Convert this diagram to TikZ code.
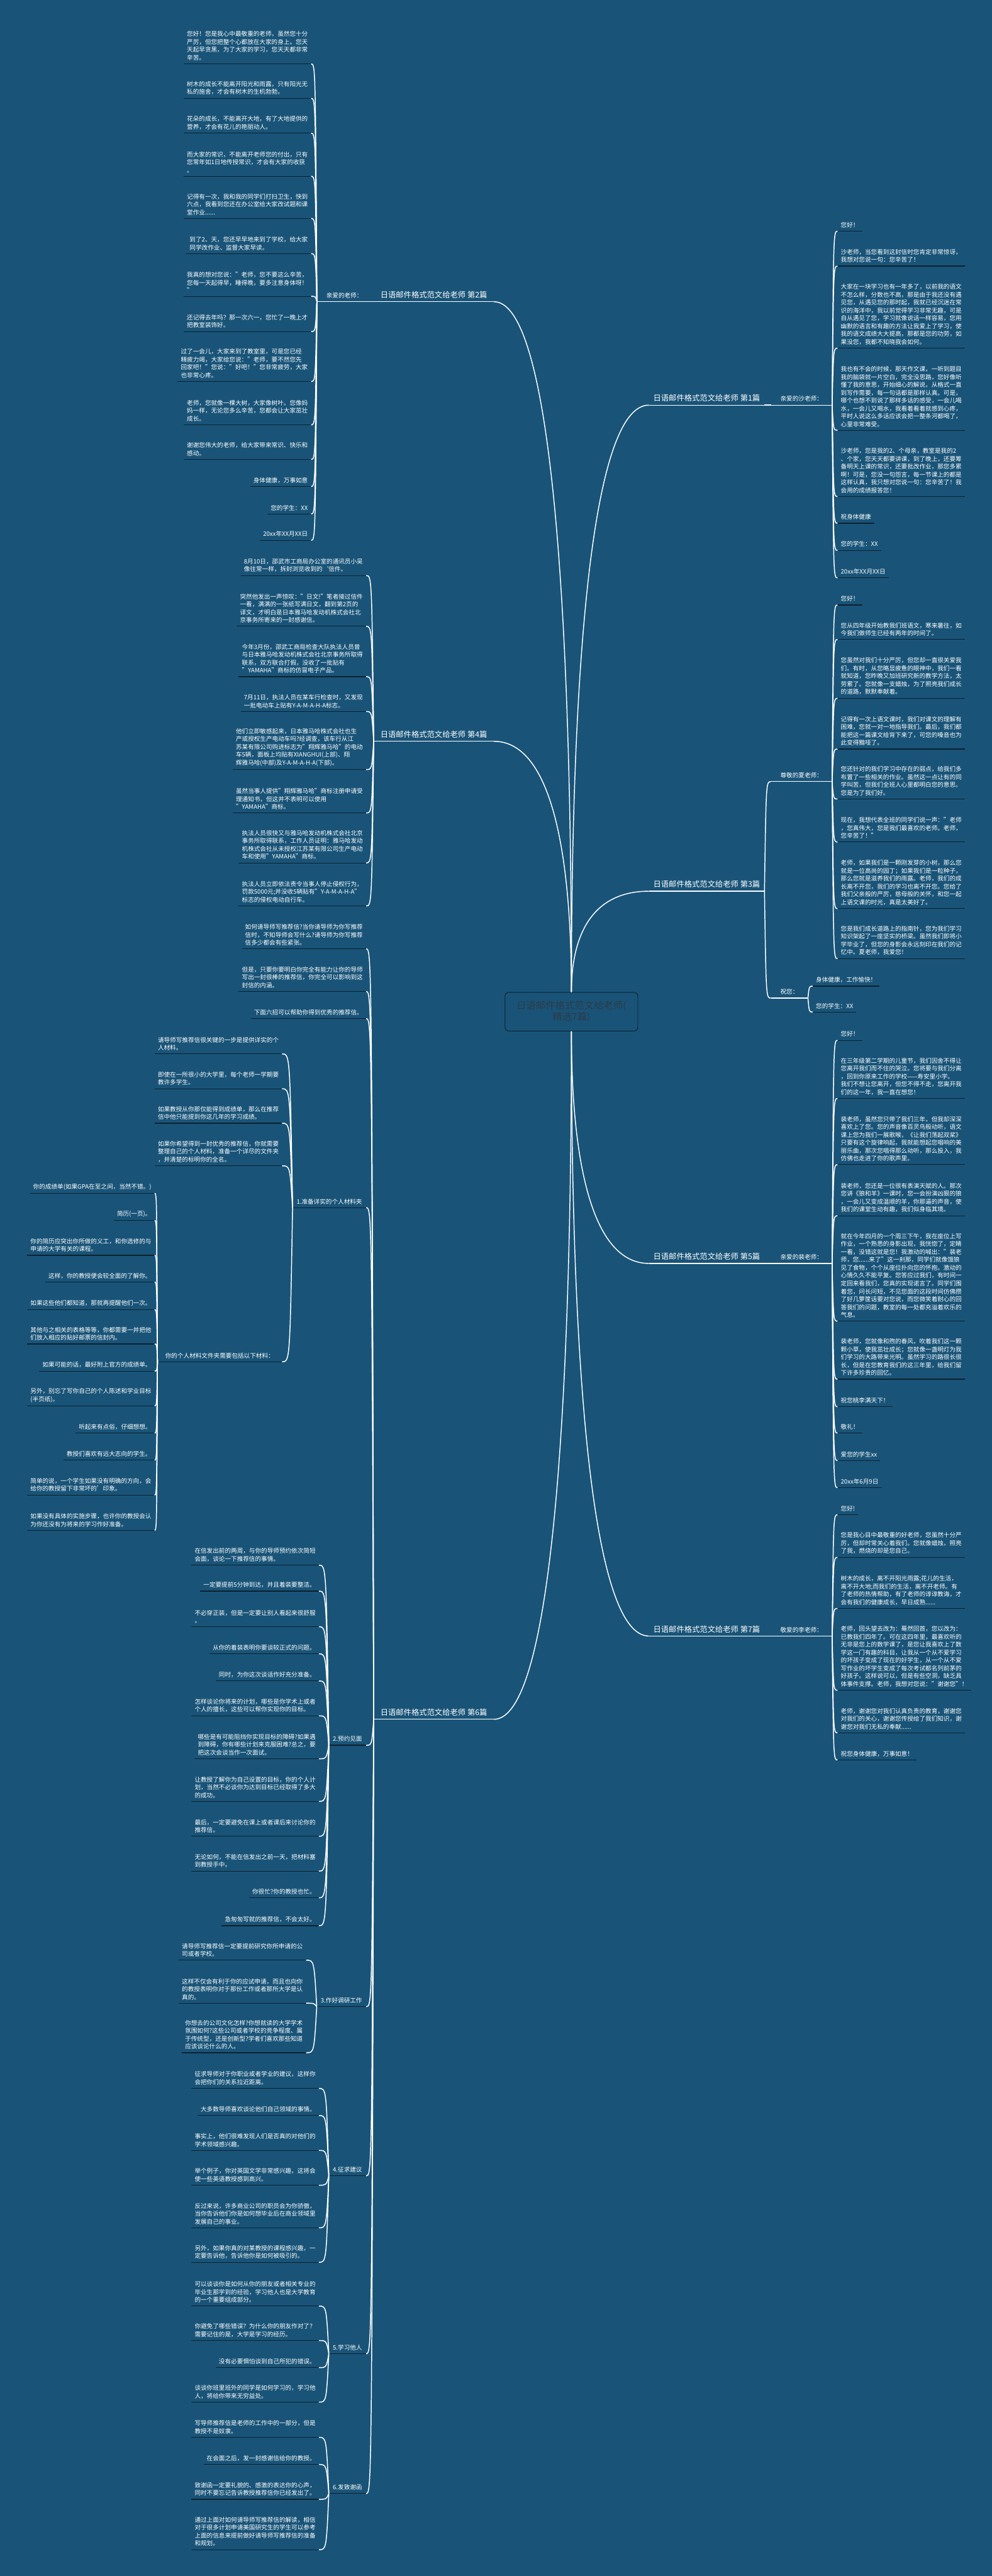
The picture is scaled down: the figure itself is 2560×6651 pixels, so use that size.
\documentclass[tikz,border=0pt]{standalone}
\usepackage{fontspec}
\setmainfont{Noto Sans CJK SC}
\usetikzlibrary{calc}
\definecolor{bg}{RGB}{25,84,120}
\definecolor{ulc}{RGB}{14,32,46}
\definecolor{ctext}{RGB}{45,58,72}
\newcommand\lf{\fontsize{7.8}{10.15}\selectfont}
\newcommand\brfont{\fontsize{10}{12}\selectfont}
\tikzset{
  ul/.style={draw=ulc, line width=1pt},
  wul/.style={draw=white, line width=1pt},
  conn/.style={draw=white, line width=1.2pt},
  leaf/.style={font=\lf, text=white, align=left, inner xsep=4pt, inner ysep=4.2pt,
     append after command={(\tikzlastnode.south west) edge[ul] (\tikzlastnode.south east)}},
  L/.style={leaf, anchor=south east},
  R/.style={leaf, anchor=south west},
  brbase/.style={font=\brfont, text=white, inner ysep=4pt,
     append after command={(\tikzlastnode.south west) edge[wul] (\tikzlastnode.south east)}},
  brL/.style={brbase, inner xsep=8.5pt, anchor=south east},
  brR/.style={brbase, inner xsep=5.5pt, anchor=south west},
  subbase/.style={font=\lf, text=white, inner ysep=4.2pt,
     append after command={(\tikzlastnode.south west) edge[wul] (\tikzlastnode.south east)}},
  subR/.style={subbase, inner xsep=12pt, anchor=south west},
  sec/.style={font=\lf, text=white, inner xsep=5pt, inner ysep=4.2pt, anchor=south east,
     append after command={(\tikzlastnode.south west) edge[ul] (\tikzlastnode.south east)}},
  cbox/.style={draw=ulc, line width=0.8pt, fill=bg, rounded corners=5pt, text=ctext,
     font=\fontsize{12.5}{14.5}\selectfont, align=center, minimum width=171.5pt, minimum height=50pt}
}
% bracket connector: #1 parent anchor, #2 child anchor
\newcommand\bk[2]{\draw[conn] let \p1=(#1),\p2=(#2) in (\p1) .. controls ({0.75*\x1+0.25*\x2},\y2) .. (\p2);}
% center connector
\newcommand\ck[2]{\draw[conn] let \p1=(#1),\p2=(#2) in (\p1) .. controls (\x1,{0.4*\y1+0.6*\y2}) and ({0.3*\x2+0.7*\x1},\y2) .. (\p2);}
\newcommand\LL[4]{\node[L] (#1) at (#2) {#3}; \bk{#4.south west}{#1.south east}}
\newcommand\RR[4]{\node[R] (#1) at (#2) {#3}; \bk{#4.south east}{#1.south west}}
\newcommand\SL[4]{\node[sec] (#1) at (#2) {#3}; \bk{#4.south west}{#1.south east}}
\begin{document}
\begin{tikzpicture}[x=0.5pt,y=-0.5pt]
\fill[bg] (0,0) rectangle (2560,6651);
\useasboundingbox (0,0) rectangle (2560,6651);

% ---------- center and branches
\node[cbox] (C) at (1475,2612) {日语邮件格式范文给老师(\\精选7篇)};
\node[brL] (B2) at (1275,779) {日语邮件格式范文给老师 第2篇};
\node[brL] (B4) at (1275,1914) {日语邮件格式范文给老师 第4篇};
\node[brL] (B6) at (1275,4439) {日语邮件格式范文给老师 第6篇};
\node[brR] (B1) at (1675,1046) {日语邮件格式范文给老师 第1篇};
\node[brR] (B3) at (1675,2301) {日语邮件格式范文给老师 第3篇};
\node[brR] (B5) at (1675,3262) {日语邮件格式范文给老师 第5篇};
\node[brR] (B7) at (1675,4224) {日语邮件格式范文给老师 第7篇};
\ck{C.north}{B2.south east}
\ck{C.north}{B4.south east}
\ck{C.south}{B6.south east}
\ck{C.north}{B1.south west}
\ck{C.north}{B3.south west}
\ck{C.south}{B5.south west}
\ck{C.south}{B7.south west}

% ---------- sub labels
\node[subR] (P2) at (818,779) {亲爱的老师：};
\node[subR] (P1) at (1990,1046) {亲爱的沙老师：};
\node[subR] (P3) at (1990,2018) {尊敬的夏老师：};
\node[subR] (Q3) at (1990,2577) {祝您：};
\node[subR] (P5) at (1990,3262) {亲爱的裴老师：};
\node[subR] (P7) at (1990,4224) {敬爱的李老师：};
\bk{B2.south west}{P2.south east}
\bk{B1.south east}{P1.south west}
\bk{B3.south east}{P3.south west}
\bk{B3.south east}{Q3.south west}
\bk{B5.south east}{P5.south west}
\bk{B7.south east}{P7.south west}

% ---------- 第2篇 leaves
\LL{a1}{803,165}{您好！您是我心中最敬重的老师，虽然您十分\\严厉，但您把整个心都放在大家的身上。您天\\天起早贪黑，为了大家的学习，您天天都非常\\辛苦。}{P2}
\LL{a2}{803,254}{树木的成长不能离开阳光和雨露，只有阳光无\\私的施舍，才会有树木的生机勃勃。}{P2}
\LL{a3}{803,344}{花朵的成长，不能离开大地，有了大地提供的\\营养，才会有花儿的艳丽动人。}{P2}
\LL{a4}{803,455}{而大家的常识，不能离开老师您的付出，只有\\您常年如1日地传授常识，才会有大家的收获\\。}{P2}
\LL{a5}{803,564}{记得有一次，我和我的同学们打扫卫生，快到\\六点，我看到您还在办公室给大家改试题和课\\堂作业......}{P2}
\LL{a6}{803,655}{到了2、天，您还早早地来到了学校，给大家\\同学改作业、监督大家早读。}{P2}
\LL{a7}{803,765}{我真的想对您说："老师，您不要这么辛苦，\\您每一天起得早，睡得晚，要多注意身体呀！\\"}{P2}
\LL{a8}{803,856}{还记得去年吗？那一次六一，您忙了一晚上才\\把教室装饰好。}{P2}
\LL{a9}{803,985}{过了一会儿，大家来到了教室里，可是您已经\\精疲力竭，大家给您说："老师，要不然您先\\回家吧！"您说："好吧！"您非常疲劳，大家\\也非常心疼。}{P2}
\LL{a10}{803,1097}{老师，您就像一棵大树，大家像树叶。您像妈\\妈一样，无论您多么辛苦，您都会让大家茁壮\\成长。}{P2}
\LL{a11}{803,1186}{谢谢您伟大的老师，给大家带来常识、快乐和\\感动。}{P2}
\LL{a12}{803,1256}{身体健康，万事如意}{P2}
\LL{a13}{803,1327}{您的学生：XX}{P2}
\LL{a14}{803,1395}{20xx年XX月XX日}{P2}

% ---------- 第4篇 leaves
\LL{b1}{945,1486}{8月10日，邵武市工商局办公室的通讯员小吴\\像往常一样，拆封浏览收到的`信件。}{B4}
\LL{b2}{945,1617}{突然他发出一声惊叹："日文!"笔者接过信件\\一看，满满的一张纸写满日文，翻到第2页的\\译文，才明白是日本雅马哈发动机株式会社北\\京事务所寄来的一封感谢信。}{B4}
\LL{b3}{945,1747}{今年3月份，邵武工商局检查大队执法人员曾\\与日本雅马哈发动机株式会社北京事务所取得\\联系，双方联合打假，没收了一批贴有\\"YAMAHA"商标的仿冒电子产品。}{B4}
\LL{b4}{945,1837}{7月11日，执法人员在某车行检查时，又发现\\一批电动车上贴有Y-A-M-A-H-A标志。}{B4}
\LL{b5}{945,1987}{他们立即敏感起来，日本雅马哈株式会社也生\\产或授权生产电动车吗?经调查，该车行从江\\苏某有限公司购进标志为"翔辉雅马哈"的电动\\车5辆，面板上均贴有XIANGHUI(上部)、翔\\辉雅马哈(中部)及Y-A-M-A-H-A(下部)。}{B4}
\LL{b6}{945,2099}{虽然当事人提供"翔辉雅马哈"商标注册申请受\\理通知书，但这并不表明可以使用\\"YAMAHA"商标。}{B4}
\LL{b7}{945,2228}{执法人员很快又与雅马哈发动机株式会社北京\\事务所取得联系，工作人员证明：雅马哈发动\\机株式会社从未授权江苏某有限公司生产电动\\车和使用"YAMAHA"商标。}{B4}
\LL{b8}{945,2339}{执法人员立即依法责令当事人停止侵权行为，\\罚款5000元;并没收5辆贴有"Y-A-M-A-H-A"\\标志的侵权电动自行车。}{B4}

% ---------- 第6篇 children
\LL{c1}{945,2450}{如何请导师写推荐信?当你请导师为你写推荐\\信时，不知导师会写什么?请导师为你写推荐\\信多少都会有些紧张。}{B6}
\LL{c2}{945,2560}{但是，只要你要明白你完全有能力让你的导师\\写出一封很棒的推荐信，你完全可以影响到这\\封信的内涵。}{B6}
\LL{c3}{945,2630}{下面六招可以帮助你得到优秀的推荐信。}{B6}
\SL{s1}{945,3118}{1.准备详实的个人材料夹}{B6}
\SL{s2}{945,4506}{2.预约见面}{B6}
\SL{s3}{945,5181}{3.作好调研工作}{B6}
\SL{s4}{945,5618}{4.征求建议}{B6}
\SL{s5}{945,6077}{5.学习他人}{B6}
\SL{s6}{945,6438}{6.发致谢函}{B6}

% section 1
\LL{d1}{728,2721}{请导师写推荐信很关键的一步是提供详实的个\\人材料。}{s1}
\LL{d2}{728,2811}{即使在一所很小的大学里，每个老师一学期要\\教许多学生。}{s1}
\LL{d3}{728,2900}{如果教授从你那仅能得到成绩单，那么在推荐\\信中他只能提到你这几年的学习成绩。}{s1}
\LL{d4}{728,3010}{如果你希望得到一封优秀的推荐信，你就需要\\整理自己的个人材料，准备一个详尽的文件夹\\，并清楚的标明你的全名。}{s1}
\node[sec, inner xsep=10pt] (d5) at (728,3516) {你的个人材料文件夹需要包括以下材料：};
\bk{s1.south west}{d5.south east}
\LL{t1}{399,3081}{你的成绩单(如果GPA在至之间，当然不错。)}{d5}
\LL{t2}{399,3151}{简历(一页)。}{d5}
\LL{t3}{399,3241}{你的简历应突出你所做的义工，和你选修的与\\申请的大学有关的课程。}{d5}
\LL{t4}{399,3310}{这样，你的教授便会较全面的了解你。}{d5}
\LL{t5}{399,3381}{如果这些他们都知道，那就再提醒他们一次。}{d5}
\LL{t6}{399,3470}{其他与之相关的表格等等，你都需要一并把他\\们放入相应的贴好邮票的信封内。}{d5}
\LL{t7}{399,3540}{如果可能的话，最好附上官方的成绩单。}{d5}
\LL{t8}{399,3630}{另外，别忘了写你自己的个人陈述和学业目标\\(半页纸)。}{d5}
\LL{t9}{399,3700}{听起来有点俗，仔细想想。}{d5}
\LL{t10}{399,3770}{教授们喜欢有远大志向的学生。}{d5}
\LL{t11}{399,3860}{简单的说，一个学生如果没有明确的方向，会\\给你的教授留下非常坏的'印象。}{d5}
\LL{t12}{399,3951}{如果没有具体的实施步骤，也许你的教授会认\\为你还没有为将来的学习作好准备。}{d5}

% section 2
\LL{e1}{823,4041}{在信发出前的两周，与你的导师预约依次简短\\会面，谈论一下推荐信的事情。}{s2}
\LL{e2}{823,4108}{一定要提前5分钟到达，并且着装要整洁。}{s2}
\LL{e3}{823,4200}{不必穿正装，但是一定要让别人看起来很舒服\\。}{s2}
\LL{e4}{823,4270}{从你的着装表明你要谈较正式的问题。}{s2}
\LL{e5}{823,4340}{同时，为你这次谈话作好充分准备。}{s2}
\LL{e6}{823,4430}{怎样谈论你将来的计划，哪些是你学术上或者\\个人的擅长，这些可以帮你实现你的目标。}{s2}
\LL{e7}{823,4541}{哪些是有可能阻挡你实现目标的障碍?如果遇\\到障碍，你有哪些计划来克服困难?总之，要\\把这次会谈当作一次面试。}{s2}
\LL{e8}{823,4651}{让教授了解你为自己设置的目标，你的个人计\\划，当然不必谈你为达到目标已经取得了多大\\的成功。}{s2}
\LL{e9}{823,4741}{最后，一定要避免在课上或者课后来讨论你的\\推荐信。}{s2}
\LL{e10}{823,4831}{无论如何，不能在信发出之前一天，把材料塞\\到教授手中。}{s2}
\LL{e11}{823,4900}{你很忙?你的教授也忙。}{s2}
\LL{e12}{823,4972}{急匆匆写就的推荐信，不会太好。}{s2}

% section 3
\LL{f1}{790,5061}{请导师写推荐信一定要提前研究你所申请的公\\司或者学校。}{s3}
\LL{f2}{790,5172}{这样不仅会有利于你的应试申请，而且也向你\\的教授表明你对于那份工作或者那所大学是认\\真的。}{s3}
\LL{f3}{790,5300}{你想去的公司文化怎样?你想就读的大学学术\\氛围如何?这些公司或者学校的竞争程度、属\\于传统型，还是创新型?学者们喜欢那些知道\\应该谈论什么的人。}{s3}

% section 4
\LL{g1}{823,5392}{征求导师对于你职业或者学业的建议，这样你\\会把你们的关系拉近距离。}{s4}
\LL{g2}{823,5462}{大多数导师喜欢谈论他们自己领域的事情。}{s4}
\LL{g3}{823,5552}{事实上，他们很难发现人们是否真的对他们的\\学术领域感兴趣。}{s4}
\LL{g4}{823,5642}{举个例子，你对英国文学非常感兴趣，这将会\\使一些英语教授感到高兴。}{s4}
\LL{g5}{823,5752}{反过来说，许多商业公司的职员会为你骄傲，\\当你告诉他们你是如何想毕业后在商业领域里\\发展自己的事业。}{s4}
\LL{g6}{823,5841}{另外，如果你真的对某教授的课程感兴趣，一\\定要告诉他，告诉他你是如何被吸引的。}{s4}

% section 5
\LL{h1}{823,5954}{可以谈谈你是如何从你的朋友或者相关专业的\\毕业生那学到的经验，学习他人也是大学教育\\的一个重要组成部分。}{s5}
\LL{h2}{823,6043}{你避免了哪些错误？为什么你的朋友作对了？\\需要记住的是，大学是学习的经历。}{s5}
\LL{h3}{823,6113}{没有必要惧怕谈到自己所犯的错误。}{s5}
\LL{h4}{823,6202}{谈谈你班里班外的同学是如何学习的，学习他\\人，将给你带来无穷益处。}{s5}

% section 6
\LL{i1}{823,6293}{写导师推荐信是老师的工作中的一部分，但是\\教授不是奴隶。}{s6}
\LL{i2}{823,6363}{在会面之后，发一封感谢信给你的教授。}{s6}
\LL{i3}{823,6453}{致谢函一定要礼貌的、感激的表达你的心声，\\同时不要忘记告诉教授推荐信你已经发出了。}{s6}
\LL{i4}{823,6583}{通过上面对如何请导师写推荐信的解读，相信\\对于很多计划申请美国研究生的学生可以参考\\上面的信息来提前做好请导师写推荐信的准备\\和规划。}{s6}

% ---------- 第1篇
\RR{r1}{2162,597}{您好！}{P1}
\RR{r2}{2162,687}{沙老师，当您看到这封信时您肯定非常惊讶，\\我想对您说一句：您辛苦了！}{P1}
\RR{r3}{2162,899}{大家在一块学习也有一年多了，以前我的语文\\不怎么样，分数也不高，那是由于我还没有遇\\见您，从遇见您的那时起，我就已经沉迷在常\\识的海洋中，我以前觉得学习非常无趣，可是\\自从遇见了您，学习就像说话一样容易，您用\\幽默的语言和有趣的方法让我爱上了学习，使\\我的语文成绩大大提高，那都是您的功劳，如\\果没您，我都不知晓我会如何。}{P1}
\RR{r4}{2162,1111}{我也有不会的时候，那天作文课，一听到题目\\我的脑袋就一片空白，完全没思路，您好像听\\懂了我的意思，开始细心的解说，从格式一直\\到写作需要，每一句话都是那样认真。可是，\\哪个也想不到说了那样多话的感受，一会儿喝\\水，一会儿又喝水，我看着看着就感到心疼，\\平时人说这么多话应该会把一整条河都喝了，\\心里非常难受。}{P1}
\RR{r5}{2162,1282}{沙老师，您是我的2、个母亲，教室是我的2\\、个家，您天天都要讲课，到了晚上，还要筹\\备明天上课的常识，还要批改作业，那您多累\\啊！可是，您没一句怨言，每一节课上的都是\\这样认真，我只想对您说一句：您辛苦了！我\\会用的成绩报答您！}{P1}
\RR{r6}{2162,1351}{祝身体健康}{P1}
\RR{r7}{2162,1421}{您的学生：XX}{P1}
\RR{r8}{2162,1492}{20xx年XX月XX日}{P1}

% ---------- 第3篇
\RR{u1}{2162,1562}{您好！}{P3}
\RR{u2}{2162,1651}{您从四年级开始教我们班语文，寒来暑往，如\\今我们做师生已经有两年的时间了。}{P3}
\RR{u3}{2162,1803}{您虽然对我们十分严厉，但您却一直很关爱我\\们。有时，从您略显疲惫的眼神中，我们一看\\就知道，您昨晚又加班研究新的教学方法，太\\劳累了。您就像一支蜡烛，为了照亮我们成长\\的道路，默默奉献着。}{P3}
\RR{u4}{2162,1934}{记得有一次上语文课时，我们对课文的理解有\\困难，您就一对一地指导我们。最后，我们都\\能把这一篇课文给背下来了，可您的嗓音也为\\此变得黯哑了。}{P3}
\RR{u5}{2162,2063}{您还针对的我们学习中存在的弱点，给我们多\\布置了一些相关的作业。虽然这一点让有的同\\学叫苦，但我们全班人心里都明白您的意思。\\您是为了我们好。}{P3}
\RR{u6}{2162,2174}{现在，我想代表全班的同学们说一声："老师\\，您真伟大，您是我们最喜欢的老师。老师，\\您辛苦了！"}{P3}
\RR{u7}{2162,2346}{老师，如果我们是一颗刚发芽的小树，那么您\\就是一位高尚的园丁；如果我们是一粒种子，\\那么您就是滋养我们的雨露。老师，我们的成\\长离不开您，我们的学习也离不开您。您给了\\我们父亲般的严厉，慈母般的关怀，和您一起\\上语文课的时光，真是太美好了。}{P3}
\RR{u8}{2162,2475}{您是我们成长道路上的指南针，您为我们学习\\知识架起了一座坚实的桥梁。虽然我们即将小\\学毕业了，但您的身影会永远刻印在我们的记\\忆中。夏老师，我爱您！}{P3}
\RR{v1}{2098,2546}{身体健康，工作愉快！}{Q3}
\RR{v2}{2098,2613}{您的学生：XX}{Q3}

% ---------- 第5篇
\RR{w1}{2162,2686}{您好！}{P5}
\RR{w2}{2162,2836}{在三年级第二学期的儿童节，我们因舍不得让\\您离开我们而不住的哭泣。您将要与我们分离\\，回到你原来工作的学校——寿安里小学。\\我们不想让您离开，但您不得不走，您离开我\\们的这一年，我一直在想您！}{P5}
\RR{w3}{2162,3007}{裴老师，虽然您只带了我们三年，但我却深深\\喜欢上了您。您的声音像百灵鸟般动听，语文\\课上您为我们一展歌喉，《让我们荡起双桨》\\只要有这个旋律响起，我就能想起您唱响的美\\丽乐曲，那次您唱得那么动听，那么投入，我\\仿佛也走进了你的歌声里。}{P5}
\RR{w4}{2162,3139}{裴老师，您还是一位很有表演天赋的人。那次\\您讲《狼和羊》一课时，您一会扮演凶狠的狼\\，一会儿又变成温顺的羊，你那逼的声音，使\\我们的课堂生动有趣，我们似身临其境。}{P5}
\RR{w5}{2162,3411}{就在今年四月的一个周三下午，我在座位上写\\作业，一个熟悉的身影出现，我恍惚了，定睛\\一看，没错这就是您！我激动的喊出："裴老\\师，您......来了"这一刹那，同学们就像饿狼\\见了食物，个个从座位扑向您的怀抱。激动的\\心情久久不能平复。您答应过我们，有时间一\\定回来看我们，您真的实现诺言了。同学们围\\着您，问长问短，不见您面的这段时间仿佛攒\\了好几箩筐话要对您说，而您微笑着耐心的回\\答我们的问题，教室的每一处都充溢着欢乐的\\气息。}{P5}
\RR{w6}{2162,3561}{裴老师，您就像和煦的春风，吹着我们这一颗\\颗小草，使我茁壮成长；您就像一盏明灯为我\\们学习的大路带来光明。虽然学习的路很长很\\长，但是在您教育我们的这三年里，给我们留\\下许多珍贵的回忆。}{P5}
\RR{w7}{2162,3632}{祝您桃李满天下！}{P5}
\RR{w8}{2162,3700}{敬礼！}{P5}
\RR{w9}{2162,3771}{爱您的学生xx}{P5}
\RR{w10}{2162,3841}{20xx年6月9日}{P5}

% ---------- 第7篇
\RR{x1}{2162,3911}{您好!}{P7}
\RR{x2}{2162,4021}{您是我心目中最敬重的好老师，您虽然十分严\\厉，但却时常关心着我们。您就像蜡烛，照亮\\了我，燃烧的却是您自己。}{P7}
\RR{x3}{2162,4153}{树木的成长，离不开阳光雨露;花儿的生活，\\离不开大地;而我们的生活，离不开老师。有\\了老师的热情帮助，有了老师的谆谆教诲，才\\会有我们的健康成长，早日成熟......}{P7}
\RR{x4}{2162,4364}{老师，回头望去改为：蓦然回首，您以改为：\\已教我们四年了。可在这四年里，最喜欢听的\\无非是您上的数学课了，是您让我喜欢上了数\\学这一门有趣的科目，让我从一个从不爱学习\\的坏孩子变成了现在的好学生，从一个从不爱\\写作业的坏学生变成了每次考试都名列前茅的\\好孩子。这样说可以，但是有些空洞，缺乏具\\体事件支撑。老师，我想对您说："谢谢您"！}{P7}
\RR{x5}{2162,4474}{老师，谢谢您对我们认真负责的教育，谢谢您\\对我们的关心，谢谢您传授给了我们知识，谢\\谢您对我们无私的奉献......}{P7}
\RR{x6}{2162,4544}{祝您身体健康，万事如意！}{P7}
\end{tikzpicture}
\end{document}
